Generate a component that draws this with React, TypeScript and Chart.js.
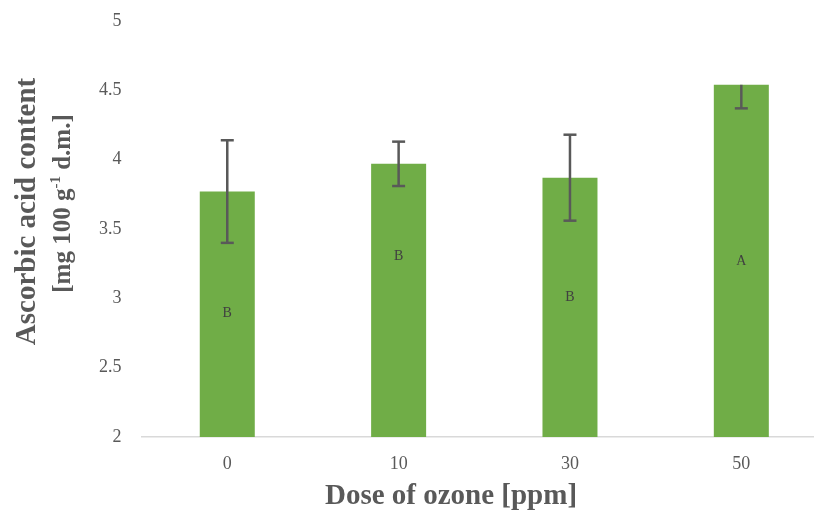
import React, { useEffect, useRef } from "react";
import { Chart, registerables } from "chart.js";

Chart.register(...registerables);

// ---- data ----
const doses = ["0", "10", "30", "50"];
const ascorbic = [3.77, 3.97, 3.87, 4.54];
const errPlus = [0.37, 0.16, 0.31, 0];
const errMinus = [0.37, 0.16, 0.31, 0.17];
const groupLetters = ["B", "B", "B", "A"];
const letterAt = [2.89, 3.3, 3.01, 3.27];
const yTicksMin = 2;
const yTicksMax = 5;
const yTickStep = 0.5;
const yTitleLine1 = "Ascorbic acid content";
const yTitleLine2 = ["[mg 100 g", "-1", " d.m.]"];
const xTitle = "Dose of ozone [ppm]";

const FONT = "'Liberation Serif', 'Times New Roman', serif";
const GREY = "#595959";

const overlay = {
  id: "overlay",
  afterDatasetsDraw(chart: any) {
    const ctx = chart.ctx;
    const xs = chart.scales.x;
    const ys = chart.scales.y;
    ctx.save();
    ctx.strokeStyle = GREY;
    ctx.lineWidth = 2.5;
    ascorbic.forEach((v, i) => {
      const cx = xs.getPixelForValue(i);
      const yt = ys.getPixelForValue(v + errPlus[i]);
      const yb = ys.getPixelForValue(v - errMinus[i]);
      ctx.beginPath();
      ctx.moveTo(cx, yt);
      ctx.lineTo(cx, yb);
      ctx.stroke();
      const half = 6.5;
      if (errPlus[i] > 0) {
        ctx.beginPath();
        ctx.moveTo(cx - half, yt);
        ctx.lineTo(cx + half, yt);
        ctx.stroke();
      }
      if (errMinus[i] > 0) {
        ctx.beginPath();
        ctx.moveTo(cx - half, yb);
        ctx.lineTo(cx + half, yb);
        ctx.stroke();
      }
    });
    ctx.fillStyle = "#404040";
    ctx.font = `14px ${FONT}`;
    ctx.textAlign = "center";
    ctx.textBaseline = "middle";
    groupLetters.forEach((l, i) => {
      ctx.fillText(l, xs.getPixelForValue(i), ys.getPixelForValue(letterAt[i]));
    });
    ctx.restore();
  },
  afterDraw(chart: any) {
    const ctx = chart.ctx;
    ctx.save();
    ctx.fillStyle = GREY;
    // x title
    ctx.font = `bold 29px ${FONT}`;
    ctx.textAlign = "center";
    ctx.textBaseline = "alphabetic";
    ctx.fillText(xTitle, 451, 504);
    // y title line 1
    ctx.save();
    ctx.translate(34.5, 211.5);
    ctx.rotate(-Math.PI / 2);
    ctx.font = `bold 29px ${FONT}`;
    ctx.textAlign = "center";
    ctx.textBaseline = "alphabetic";
    ctx.fillText(yTitleLine1, 0, 0);
    ctx.restore();
    // y title line 2 with superscript
    ctx.save();
    ctx.translate(70, 203.5);
    ctx.rotate(-Math.PI / 2);
    ctx.textAlign = "left";
    ctx.textBaseline = "alphabetic";
    const mainFont = `bold 25px ${FONT}`;
    const supFont = `bold 15px ${FONT}`;
    ctx.font = mainFont;
    const w0 = ctx.measureText(yTitleLine2[0]).width;
    const w2 = ctx.measureText(yTitleLine2[2]).width;
    ctx.font = supFont;
    const w1 = ctx.measureText(yTitleLine2[1]).width;
    let x = -(w0 + w1 + w2) / 2;
    ctx.font = mainFont;
    ctx.fillText(yTitleLine2[0], x, 0);
    x += w0;
    ctx.font = supFont;
    ctx.fillText(yTitleLine2[1], x, -10);
    x += w1;
    ctx.font = mainFont;
    ctx.fillText(yTitleLine2[2], x, 0);
    ctx.restore();
    ctx.restore();
  },
};

export default function App() {
  const ref = useRef<HTMLCanvasElement | null>(null);
  useEffect(() => {
    if (!ref.current) return;
    const chart = new Chart(ref.current, {
      type: "bar",
      data: {
        labels: doses,
        datasets: [
          {
            data: ascorbic,
            backgroundColor: "#70AD47",
            borderWidth: 0,
            barPercentage: 0.321,
            categoryPercentage: 1,
          },
        ],
      },
      options: {
        responsive: false,
        animation: false,
        layout: { padding: { left: 0, right: 13, top: 21, bottom: 0 } },
        plugins: { legend: { display: false }, tooltip: { enabled: false } },
        scales: {
          x: {
            grid: { display: false },
            border: { display: true, color: "#D9D9D9", width: 1.5 },
            ticks: { color: GREY, font: { family: FONT, size: 18 }, padding: 8 },
            afterFit: (s: any) => {
              s.height = 73;
              s.paddingLeft = 0;
              s.paddingRight = 0;
            },
          },
          y: {
            min: yTicksMin,
            max: yTicksMax,
            grid: { display: false },
            border: { display: false },
            ticks: {
              stepSize: yTickStep,
              color: GREY,
              font: { family: FONT, size: 18 },
              padding: 12,
              callback: (v: any) => String(Number(v)),
            },
            afterFit: (s: any) => {
              s.width = 141.6;
              s.paddingTop = 0;
              s.paddingBottom = 0;
            },
          },
        },
      },
      plugins: [overlay],
    });
    return () => chart.destroy();
  }, []);
  return (
    <div style={{ position: "fixed", left: 0, top: 0, width: 814, height: 510, overflow: "hidden", background: "#fff" }}>
      <canvas ref={ref} width={840} height={510} style={{ display: "block" }} />
    </div>
  );
}
